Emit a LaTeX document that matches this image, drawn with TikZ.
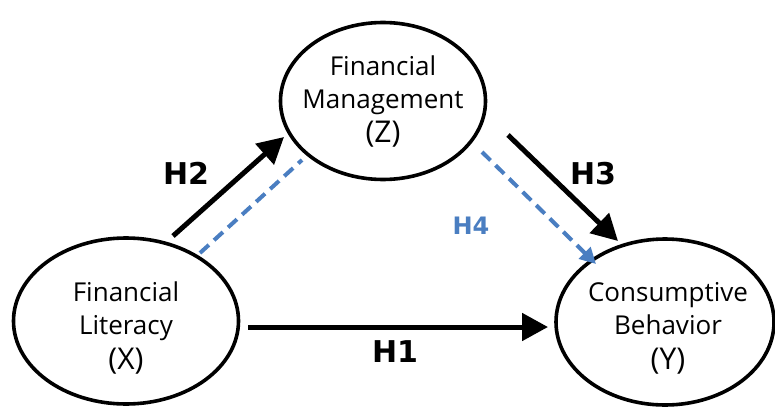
\documentclass[tikz,border=0pt]{standalone}
\usepackage{fontspec}
\setmainfont{Open Sans}
\newfontfamily\hfont{DejaVu Sans}
\usetikzlibrary{shapes.geometric,arrows.meta}
\definecolor{hblue}{RGB}{74,126,193}
\newcommand{\bigline}[1]{{\fontsize{30}{33}\selectfont #1}}
\begin{document}
\begin{tikzpicture}[x=1pt,y=-1pt,
  var/.style={draw=black,line width=3.6pt,ellipse,inner sep=0pt},
  vtext/.style={align=center,inner sep=0pt,anchor=north,font=\fontsize{26}{33}\selectfont},
  solidarr/.style={line width=5pt,-{Triangle[length=26pt,width=27pt]}},
  dasharr/.style={hblue,line width=4pt,dash pattern=on 12pt off 7pt},
  hlab/.style={font=\hfont\bfseries\fontsize{30}{30}\selectfont}]
\useasboundingbox (0,0) rectangle (775,409);
\node[var,minimum width=205pt,minimum height=157pt] (Z) at (383,101) {};
\node[var,minimum width=225pt,minimum height=166pt] (X) at (126,321) {};
\node[var,minimum width=218pt,minimum height=166pt] (Y) at (665,322) {};
\node[vtext] (Zt) at (383,56) {Financial\\Management\\[1pt]\bigline{(Z)}};
\node[vtext] (Xt) at (126,282) {Financial\\Literacy\\[2pt]\bigline{(X)}};
\node[vtext] (Yt) at (668,282) {Consumptive\\Behavior\\[2pt]\bigline{(Y)}};
% endpoints
\coordinate (h1s) at (248,327); \coordinate (h1e) at (548,327);
\coordinate (h2s) at (173,236); \coordinate (h2e) at (284,137);
\coordinate (b2s) at (200,253); \coordinate (b2e) at (302,160);
\coordinate (h3s) at (508,135); \coordinate (h3e) at (618,241);
\coordinate (h4s) at (482,152); \coordinate (h4e) at (596,264);
\draw[solidarr] (h1s) -- (h1e);
\draw[solidarr] (h2s) -- (h2e);
\draw[solidarr] (h3s) -- (h3e);
\draw[dasharr] (b2s) -- (b2e);
\draw[dasharr,-{Triangle[length=16pt,width=16pt]}] (h4s) -- (h4e);
\node[hlab] (L1) at (395,352) {H1};
\node[hlab] (L2) at (186,173) {H2};
\node[hlab] (L3) at (593,174) {H3};
\node[hlab,text=hblue,font=\hfont\bfseries\fontsize{24}{24}\selectfont] (L4) at (471,226) {H4};
\end{tikzpicture}
\end{document}
